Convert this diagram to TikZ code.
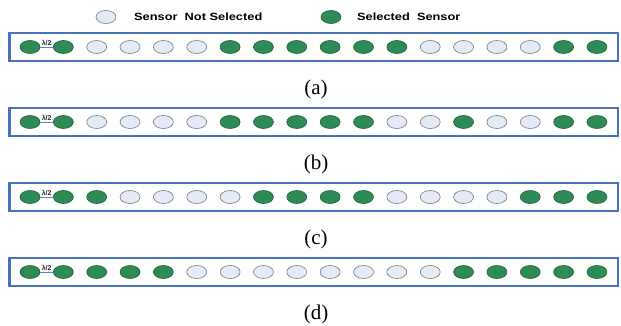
\documentclass[tikz,border=0pt]{standalone}
\usepackage{fontspec}
\setmainfont{Liberation Serif}
\newfontfamily\legendfont{Liberation Sans}
\usetikzlibrary{shapes.geometric,positioning}

\definecolor{selgreen}{RGB}{46,139,87}
\definecolor{selborder}{RGB}{28,96,58}
\definecolor{offfill}{RGB}{228,235,246}
\definecolor{offborder}{RGB}{120,120,128}
\definecolor{frameblue}{RGB}{72,114,192}
\definecolor{spanline}{RGB}{96,132,180}

\tikzset{
  sensor/.style={ellipse, inner sep=0pt, minimum width=20pt, minimum height=13pt, line width=0.6pt},
  sensor1/.style={sensor, fill=selgreen, draw=selborder},
  sensor0/.style={sensor, fill=offfill, draw=offborder},
  arraybox/.style={draw=frameblue, line width=2.8pt},
  legendtext/.style={font=\legendfont\bfseries\fontsize{10.5}{12}\selectfont, anchor=west, inner sep=0pt},
  spanlabel/.style={font=\legendfont\bfseries\fontsize{7}{8}\selectfont, text=black!85, inner sep=1pt, above},
  caption/.style={font=\fontsize{21}{24}\selectfont, inner sep=0pt}
}

\begin{document}
\begin{tikzpicture}[x=1pt,y=-1pt]
\useasboundingbox (0,0) rectangle (621,326);

% legend
\node[sensor0] (legoff) at (106,17) {};
\node[legendtext] (legofftxt) at (134,17) {\scalebox{1.22}[1]{Sensor\ \ Not Selected}};
\node[sensor1] (legon) at (331,17) {};
\node[legendtext] (legontxt) at (357,17) {\scalebox{1.22}[1]{Selected\ \ Sensor}};

% the four arrays, 1 = selected sensor
\foreach \row/\ypos/\pat in {
  a/47/{1,1,0,0,0,0,1,1,1,1,1,1,0,0,0,0,1,1},
  b/122/{1,1,0,0,0,0,1,1,1,1,1,0,0,1,0,0,1,1},
  c/197/{1,1,1,0,0,0,0,1,1,1,1,0,0,0,0,1,1,1},
  d/272/{1,1,1,1,1,0,0,0,0,0,0,0,0,1,1,1,1,1}}{
  \draw[arraybox] (9.5,\ypos-14) rectangle (618,\ypos+14);
  \foreach \s [count=\i] in \pat
    \node[sensor\s] (\row\i) at ({30+33.35*(\i-1)},\ypos) {};
  \draw[spanline, line width=0.7pt] (\row1) -- (\row2) node[spanlabel, midway] {λ/2};
  \node[caption] (cap\row) at (316,\ypos+42) {(\row)};
}
\end{tikzpicture}
\end{document}
